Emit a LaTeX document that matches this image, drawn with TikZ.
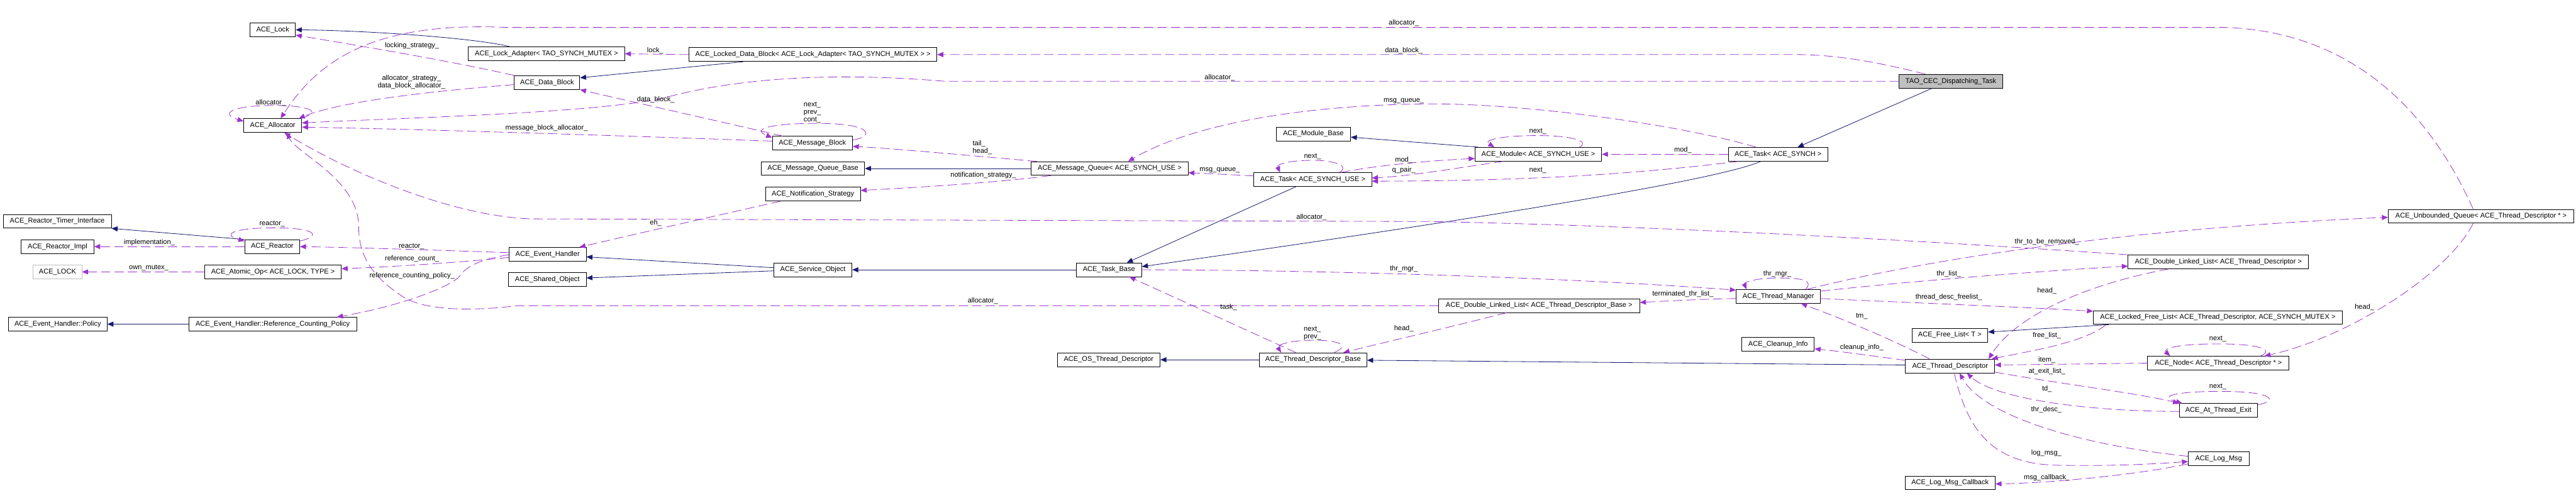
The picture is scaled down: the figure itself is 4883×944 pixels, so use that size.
\documentclass[tikz,border=0pt]{standalone}
\usepackage{fontspec}
\setmainfont{Liberation Sans}
\usetikzlibrary{arrows.meta,calc}
\definecolor{edgeblue}{HTML}{191970}
\definecolor{edgepurple}{HTML}{9A32CD}
\definecolor{boxgray}{HTML}{BFBFBF}
\newcommand{\dfont}{\fontsize{7.5}{8.3}\selectfont}
\begin{document}
\begin{tikzpicture}[x=0.02cm,y=-0.02cm,
  box/.style={draw=black,line width=0.6pt,fill=white,inner sep=0pt,minimum height=26*0.02cm,font=\dfont},
  lab/.style={font=\dfont,inner sep=0pt},
  inh/.style={draw=edgeblue,line width=0.55pt,-{Triangle[length=6.5pt,width=5.4pt]}},
  use/.style={draw=edgepurple,line width=0.55pt,dash pattern=on 10pt off 4.5pt,-{Triangle[length=6.5pt,width=5.4pt]}}]
\fill[white] (0,0) rectangle (4883,944);
\useasboundingbox (0,0) rectangle (4883,944);
% nodes
\node[box,minimum width=86*0.02cm] (lock) at (517,56.5) {ACE\_Lock};
\node[box,minimum width=110*0.02cm] (alloc) at (517,238) {ACE\_Allocator};
\node[box,minimum width=205*0.02cm] (rti) at (108.5,419.5) {ACE\_Reactor\_Timer\_Interface};
\node[box,minimum width=138*0.02cm] (rimpl) at (109,467.5) {ACE\_Reactor\_Impl};
\node[box,minimum width=104*0.02cm] (reactor) at (516,467.5) {ACE\_Reactor};
\node[box,draw=boxgray,minimum width=92*0.02cm] (LOCK) at (109,515.5) {ACE\_LOCK};
\node[box,minimum width=259*0.02cm] (atomic) at (517.5,515.5) {ACE\_Atomic\_Op< ACE\_LOCK, TYPE >};
\node[box,minimum width=187*0.02cm] (policy) at (109.5,614.5) {ACE\_Event\_Handler::Policy};
\node[box,minimum width=318*0.02cm] (rcp) at (517,614.5) {ACE\_Event\_Handler::Reference\_Counting\_Policy};
\node[box,minimum width=296*0.02cm] (ladapt) at (1036,102) {ACE\_Lock\_Adapter< TAO\_SYNCH\_MUTEX >};
\node[box,minimum width=470*0.02cm] (ldb) at (1541,103.5) {ACE\_Locked\_Data\_Block< ACE\_Lock\_Adapter< TAO\_SYNCH\_MUTEX > >};
\node[box,minimum width=124*0.02cm] (dblock) at (1037,156.5) {ACE\_Data\_Block};
\node[box,minimum width=152*0.02cm] (mblock) at (1540,271.5) {ACE\_Message\_Block};
\node[box,minimum width=196*0.02cm] (mqbase) at (1541,319.5) {ACE\_Message\_Queue\_Base};
\node[box,minimum width=180*0.02cm] (notif) at (1541,368) {ACE\_Notification\_Strategy};
\node[box,minimum width=146*0.02cm] (eh) at (1038,482) {ACE\_Event\_Handler};
\node[box,minimum width=147*0.02cm] (shobj) at (1037.5,530) {ACE\_Shared\_Object};
\node[box,minimum width=148*0.02cm] (svcobj) at (1541,511.5) {ACE\_Service\_Object};
\node[box,minimum width=297*0.02cm] (mq) at (2103.5,319.5) {ACE\_Message\_Queue< ACE\_SYNCH\_USE >};
\node[box,minimum width=223*0.02cm] (taskuse) at (2488.5,340.5) {ACE\_Task< ACE\_SYNCH\_USE >};
\node[box,minimum width=124*0.02cm] (taskbase) at (2102,511.5) {ACE\_Task\_Base};
\node[box,minimum width=195*0.02cm] (ostd) at (2101.5,682) {ACE\_OS\_Thread\_Descriptor};
\node[box,minimum width=204*0.02cm] (tdb) at (2489,682) {ACE\_Thread\_Descriptor\_Base};
\node[box,minimum width=141*0.02cm] (modbase) at (2489.5,254) {ACE\_Module\_Base};
\node[box,minimum width=240*0.02cm] (module) at (2916,292.5) {ACE\_Module< ACE\_SYNCH\_USE >};
\node[box,minimum width=381*0.02cm] (dlltdb) at (2917.5,579.5) {ACE\_Double\_Linked\_List< ACE\_Thread\_Descriptor\_Base >};
\node[box,fill=boxgray,minimum width=196*0.02cm] (tao) at (3698,154) {TAO\_CEC\_Dispatching\_Task};
\node[box,minimum width=189*0.02cm] (tasksynch) at (3370.5,292.5) {ACE\_Task< ACE\_SYNCH >};
\node[box,minimum width=160*0.02cm] (tm) at (3371,562) {ACE\_Thread\_Manager};
\node[box,minimum width=144*0.02cm] (freelist) at (3696,635.5) {ACE\_Free\_List< T >};
\node[box,minimum width=137*0.02cm] (cleanup) at (3370.5,652.5) {ACE\_Cleanup\_Info};
\node[box,minimum width=169*0.02cm] (td) at (3696.5,694) {ACE\_Thread\_Descriptor};
\node[box,minimum width=171*0.02cm] (lmcb) at (3696.5,915.5) {ACE\_Log\_Msg\_Callback};
\node[box,minimum width=472*0.02cm] (lfl) at (4204,602) {ACE\_Locked\_Free\_List< ACE\_Thread\_Descriptor, ACE\_SYNCH\_MUTEX >};
\node[box,minimum width=342*0.02cm] (dlltd) at (4205,496.5) {ACE\_Double\_Linked\_List< ACE\_Thread\_Descriptor >};
\node[box,minimum width=352*0.02cm] (uq) at (4703,410) {ACE\_Unbounded\_Queue< ACE\_Thread\_Descriptor * >};
\node[box,minimum width=268*0.02cm] (tnode) at (4205,688.5) {ACE\_Node< ACE\_Thread\_Descriptor * >};
\node[box,minimum width=148*0.02cm] (ate) at (4205,778) {ACE\_At\_Thread\_Exit};
\node[box,minimum width=115*0.02cm] (logmsg) at (4205.5,870) {ACE\_Log\_Msg};
% inheritance
\draw[inh] ($(ladapt.north)+(-69,0)$) .. controls (900,72) and (700,58) .. (lock.east);
\draw[inh] ($(ldb.south)+(-132,0)$) -- ($(dblock.east)+(0,-9)$);
\draw[inh] (reactor.north west) -- (rti.south east);
\draw[inh] (rcp.west) -- (policy.east);
\draw[inh] ($(svcobj.west)+(0,-4)$) -- ($(eh.east)+(0,5)$);
\draw[inh] ($(svcobj.west)+(0,2)$) -- ($(shobj.east)+(0,-3)$);
\draw[inh] (taskbase.west) -- (svcobj.east);
\draw[inh] (mq.west) -- (mqbase.east);
\draw[inh] ($(taskuse.south)+(-32,0)$) -- ($(taskbase.north)+(34,0)$);
\draw[inh] ($(module.north west)+(7,0)$) -- ($(modbase.east)+(0,6)$);
\draw[inh] ($(tao.south)+(-36,0)$) -- ($(tasksynch.north)+(37,0)$);
\draw[inh] ($(tasksynch.south)+(-33,0)$) .. controls (3250,345) and (2700,430) .. ($(taskbase.east)+(0,-6)$);
\draw[inh] ($(td.west)+(0,-2)$) -- ($(tdb.east)+(0,1)$);
\draw[inh] (tdb.west) -- (ostd.east);
\draw[inh] ($(lfl.south west)+(30,0)$) -- ($(freelist.east)+(0,-6)$);
% usage
\draw[use] ($(alloc.north east)+(-3,0)$) .. controls (615,212) and (585,200) .. (520,200) .. controls (440,200) and (415,215) .. ($(alloc.west)+(0,-8)$);
\draw[use] ($(uq.north)+(-15,0)$) .. controls (4600,200) and (4450,60) .. (4218,52) -- (960,52) .. controls (700,40) and (600,120) .. ($(alloc.north)+(15,0)$);
\draw[use] ($(dblock.west)+(0,4)$) .. controls (850,170) and (650,190) .. ($(alloc.north east)+(-6,0)$);
\draw[use] (dblock.north west) .. controls (850,115) and (700,90) .. ($(lock.east)+(0,10)$);
\draw[use] (tao.west) -- (1790,154) .. controls (1620,140) and (1420,140) .. (1250,188) .. controls (1100,215) and (800,222) .. ($(alloc.east)+(0,-5)$);
\draw[use] ($(mblock.west)+(0,-4)$) .. controls (1200,258) and (800,245) .. ($(alloc.east)+(0,3)$);
\draw[use] (dlltdb.west) -- (980,579.5) .. controls (900,590) and (800,590) .. (760,560) .. controls (700,520) and (680,480) .. (680,430) .. controls (680,340) and (560,290) .. ($(alloc.south)+(27,0)$);
\draw[use] (dlltd.north west) .. controls (3700,460) and (3200,430) .. (2714,420) -- (1009,415) .. controls (850,410) and (650,320) .. ($(alloc.south)+(22,0)$);
\draw[use] (ldb.west) -- (ladapt.east);
\draw[use] ($(tao.north west)+(50,0)$) .. controls (3560,118) and (3480,103) .. (3400,103.5) -- (ldb.east);
\draw[use] ($(mblock.north west)+(20,0)$) .. controls (1430,245) and (1250,205) .. (dblock.south east);
\draw[use] ($(mblock.east)+(0,-6)$) .. controls (1660,258) and (1650,235) .. (1560,234) .. controls (1470,233) and (1420,243) .. ($(mblock.north west)+(0,3)$);
\draw[use] ($(mq.north west)+(11,0)$) .. controls (1850,296) and (1700,282) .. ($(mblock.east)+(0,6)$);
\draw[use] ($(mq.south west)+(37,0)$) .. controls (1900,345) and (1750,355) .. ($(notif.east)+(0,-7)$);
\draw[use] ($(notif.south west)+(29,0)$) .. controls (1330,415) and (1200,445) .. ($(eh.north east)+(-13,0)$);
\draw[use] ($(reactor.north east)+(0,3)$) .. controls (610,447) and (600,432) .. (520,432) .. controls (440,432) and (420,445) .. ($(reactor.north west)+(0,3)$);
\draw[use] ($(eh.west)+(0,-3)$) .. controls (850,475) and (700,470) .. (reactor.east);
\draw[use] (reactor.west) -- (rimpl.east);
\draw[use] ($(eh.west)+(0,6)$) .. controls (878,497) and (760,505) .. ($(atomic.east)+(0,-6)$);
\draw[use] ($(eh.west)+(0,1)$) .. controls (900,493) and (880,510) .. (870,525) .. controls (850,545) and (760,580) .. ($(rcp.north east)+(-38,0)$);
\draw[use] (atomic.west) -- (LOCK.east);
\draw[use] ($(taskuse.west)+(0,-7)$) .. controls (2330,331) and (2290,329) .. ($(mq.east)+(0,8)$);
\draw[use] ($(tasksynch.north west)+(53,0)$) .. controls (3200,240) and (2900,195) .. (2700,197) .. controls (2450,200) and (2250,240) .. ($(mq.north)+(35,0)$);
\draw[use] (tasksynch.west) -- (module.east);
\draw[use] ($(taskuse.north east)+(-59,0)$) .. controls (2600,315) and (2700,305) .. ($(module.west)+(0,8)$);
\draw[use] ($(module.south west)+(54,0)$) .. controls (2750,320) and (2680,333) .. ($(taskuse.east)+(0,-3)$);
\draw[use] ($(tasksynch.south west)+(20,0)$) .. controls (3100,330) and (2900,343) .. ($(taskuse.east)+(0,3)$);
\draw[use] ($(taskuse.north)+(50,0)$) .. controls (2560,315) and (2530,304) .. (2489,304) .. controls (2440,304) and (2420,312) .. ($(taskuse.north west)+(50,0)$);
\draw[use] ($(module.north)+(78,0)$) .. controls (3015,268) and (2980,257) .. (2915,257) .. controls (2850,257) and (2810,265) .. ($(module.north west)+(37,0)$);
\draw[use] (taskbase.east) .. controls (2500,512) and (2950,525) .. ($(tm.west)+(0,-12)$);
\draw[use] ($(tm.north east)+(-29,0)$) .. controls (3440,530) and (3410,527) .. (3370,527) .. controls (3330,527) and (3305,535) .. ($(tm.north west)+(20,0)$);
\draw[use] ($(tm.west)+(0,4)$) .. controls (3230,567) and (3170,570) .. ($(dlltdb.east)+(0,-6)$);
\draw[use] ($(tm.east)+(0,-10)$) .. controls (3600,535) and (3850,515) .. ($(dlltd.west)+(0,8)$);
\draw[use] ($(tm.east)+(0,4)$) .. controls (3650,575) and (3850,583) .. ($(lfl.west)+(0,-12)$);
\draw[use] ($(td.north west)+(46,0)$) .. controls (3580,640) and (3480,600) .. ($(tm.south)+(43,0)$);
\draw[use] ($(dlltd.south west)+(77,0)$) .. controls (3950,540) and (3820,600) .. ($(td.north east)+(-12,0)$);
\draw[use] ($(lfl.south west)+(25,0)$) .. controls (3950,650) and (3850,665) .. ($(td.north east)+(-6,0)$);
\draw[use] (tnode.west) -- ($(td.east)+(0,-2)$);
\draw[use] ($(td.south east)+(0,-2)$) .. controls (3900,727) and (4050,745) .. (ate.north west);
\draw[use] ($(ate.west)+(0,2)$) .. controls (3950,780) and (3780,755) .. ($(td.south)+(32,0)$);
\draw[use] ($(ate.north east)+(0,3)$) .. controls (4320,760) and (4310,742) .. (4210,742) .. controls (4120,742) and (4090,752) .. ($(ate.north west)+(6,0)$);
\draw[use] ($(tnode.north east)+(-55,0)$) .. controls (4310,665) and (4290,652) .. (4205,652) .. controls (4120,652) and (4100,662) .. ($(tnode.north west)+(43,0)$);
\draw[use] ($(uq.south)+(-15,0)$) .. controls (4640,520) and (4450,640) .. ($(tnode.north east)+(-47,0)$);
\draw[use] ($(tm.north east)+(-26,0)$) .. controls (3700,480) and (4100,430) .. ($(uq.west)+(0,2)$);
\draw[use] ($(tdb.north)+(40,0)$) .. controls (2560,655) and (2540,645) .. (2490,645) .. controls (2440,645) and (2420,655) .. ($(tdb.north west)+(42,0)$);
\draw[use] ($(tdb.north west)+(70,0)$) -- ($(taskbase.south)+(39,0)$);
\draw[use] ($(dlltdb.south)+(-62,0)$) .. controls (2750,620) and (2620,650) .. ($(tdb.north east)+(-45,0)$);
\draw[use] ($(td.west)+(0,-11)$) .. controls (3550,675) and (3480,665) .. ($(cleanup.east)+(0,9)$);
\draw[use] ($(logmsg.west)+(0,-5)$) .. controls (3950,845) and (3760,790) .. ($(td.south)+(18,0)$);
\draw[use] ($(td.south)+(8,0)$) .. controls (3730,820) and (3780,880) .. (3900,882) .. controls (4000,884) and (4080,880) .. ($(logmsg.west)+(0,5)$);
\draw[use] ($(logmsg.south west)+(0,-4)$) .. controls (4050,900) and (3900,915) .. ($(lmcb.east)+(0,2)$);
% labels
\node[lab] (la1) at (513,195) {allocator\_};
\node[lab] (la2) at (2661,44) {allocator\_};
\node[lab,align=center] (la3) at (780,156) {allocator\_strategy\_\\data\_block\_allocator\_};
\node[lab] (la4) at (781,87) {locking\_strategy\_};
\node[lab] (la5) at (2312,147) {allocator\_};
\node[lab] (la6) at (1036,243) {message\_block\_allocator\_};
\node[lab] (la7) at (1863,571) {allocator\_};
\node[lab] (la8) at (2486,412) {allocator\_};
\node[lab] (la9) at (1242,96) {lock\_};
\node[lab] (la10) at (2661,96) {data\_block\_};
\node[lab] (la11) at (1243,189) {data\_block\_};
\node[lab,align=left] (la12) at (1540,213.5) {next\_\\prev\_\\cont\_};
\node[lab,align=left] (la13) at (1862,280) {tail\_\\head\_};
\node[lab] (la14) at (1864,332) {notification\_strategy\_};
\node[lab] (la15) at (1243,423) {eh\_};
\node[lab] (la16) at (516,424) {reactor\_};
\node[lab] (la17) at (780,467) {reactor\_};
\node[lab] (la18) at (283,460) {implementation\_};
\node[lab] (la19) at (781,491) {reference\_count\_};
\node[lab] (la20) at (781,523) {reference\_counting\_policy\_};
\node[lab] (la21) at (282,508) {own\_mutex\_};
\node[lab] (la22) at (2312,323) {msg\_queue\_};
\node[lab] (la23) at (2661,192) {msg\_queue\_};
\node[lab] (la24) at (3190,285) {mod\_};
\node[lab] (la25) at (2661,303) {mod\_};
\node[lab] (la26) at (2661,323) {q\_pair\_};
\node[lab] (la27) at (2915,323) {next\_};
\node[lab] (la28) at (2488,297) {next\_};
\node[lab] (la29) at (2915,249) {next\_};
\node[lab] (la30) at (2661,510) {thr\_mgr\_};
\node[lab] (la31) at (3369,519) {thr\_mgr\_};
\node[lab] (la32) at (3190,557) {terminated\_thr\_list\_};
\node[lab] (la33) at (3694,519) {thr\_list\_};
\node[lab] (la34) at (3694,563) {thread\_desc\_freelist\_};
\node[lab] (la35) at (3529,600) {tm\_};
\node[lab] (la36) at (3880,552) {head\_};
\node[lab] (la37) at (3880,636) {free\_list\_};
\node[lab] (la38) at (3880,683) {item\_};
\node[lab] (la39) at (3880,704) {at\_exit\_list\_};
\node[lab] (la40) at (3880,738) {td\_};
\node[lab] (la41) at (4204,733) {next\_};
\node[lab] (la42) at (4204,643) {next\_};
\node[lab] (la43) at (4482,583) {head\_};
\node[lab] (la44) at (3880,458) {thr\_to\_be\_removed\_};
\node[lab,align=left] (la45) at (2488,631.5) {next\_\\prev\_};
\node[lab] (la46) at (2329,583) {task\_};
\node[lab] (la47) at (2661,623) {head\_};
\node[lab] (la48) at (3529,659) {cleanup\_info\_};
\node[lab] (la49) at (3879,777) {thr\_desc\_};
\node[lab] (la50) at (3879,859) {log\_msg\_};
\node[lab] (la51) at (3880,905) {msg\_callback\_};
\end{tikzpicture}
\end{document}
